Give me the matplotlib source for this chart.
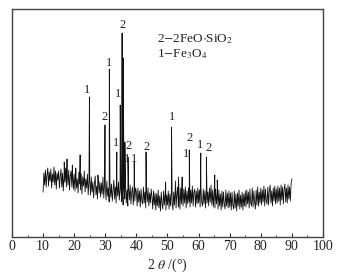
import numpy as np
import matplotlib
matplotlib.use("Agg")
import matplotlib.pyplot as plt
from matplotlib.ticker import MultipleLocator, NullLocator

plt.rcParams['font.family'] = ['Liberation Serif', 'DejaVu Serif']
plt.rcParams['mathtext.fontset'] = 'stix'

# background (0.25 deg steps from 10 to 90), hand-read intensity (arb. units)
bg_values = [
    45, 64, 52, 67, 50, 62, 69, 51, 65, 56, 68, 49, 63, 55, 70, 52, 66, 48, 64, 57,
    66, 49, 60, 68, 50, 64, 46, 62, 55, 69, 50, 65, 52, 67, 47, 61, 66, 50, 63, 48,
    63, 46, 66, 49, 58, 44, 65, 53, 47, 63, 43, 60, 51, 66, 45, 58, 49, 63, 42, 56,
    57, 42, 60, 45, 55, 39, 53, 61, 42, 51, 38, 59, 44, 55, 40, 54, 43, 60, 39, 52,
    52, 37, 56, 41, 49, 35, 54, 40, 53, 36, 47, 57, 38, 50, 34, 52, 41, 55, 37, 48,
    51, 35, 46, 32, 50, 38, 53, 34, 47, 31, 49, 37, 52, 33, 45, 50, 32, 47, 36, 49,
    45, 31, 49, 35, 46, 30, 48, 36, 33, 50, 34, 45, 29, 47, 35, 49, 31, 44, 34, 48,
    40, 28, 46, 32, 44, 27, 43, 31, 47, 29, 41, 26, 45, 33, 28, 46, 32, 43, 27, 42,
    32, 46, 28, 43, 31, 47, 34, 27, 45, 32, 48, 29, 42, 50, 30, 44, 28, 49, 33, 45,
    31, 48, 34, 50, 29, 46, 33, 49, 35, 30, 47, 34, 51, 31, 45, 48, 30, 46, 33, 49,
    34, 47, 30, 49, 35, 31, 48, 33, 46, 29, 50, 34, 45, 31, 49, 35, 52, 32, 47, 30,
    45, 29, 48, 33, 44, 28, 47, 31, 43, 27, 46, 30, 45, 33, 28, 47, 31, 44, 29, 46,
    30, 44, 27, 45, 32, 28, 46, 29, 43, 26, 44, 31, 47, 28, 42, 30, 45, 27, 43, 31,
    46, 30, 47, 33, 45, 29, 48, 34, 31, 49, 30, 46, 35, 28, 47, 32, 50, 31, 45, 34,
    49, 32, 47, 35, 51, 31, 48, 36, 33, 50, 32, 47, 52, 34, 46, 31, 49, 36, 51, 33,
    48, 34, 51, 36, 49, 32, 52, 37, 50, 33, 48, 53, 35, 49, 34, 52, 38, 50, 36, 54,
    58,
]
bg_x = np.linspace(10, 90, len(bg_values))

# diffraction peaks (2theta, intensity)
peak_pos = [16.8, 17.7, 19.4, 20.5, 21.9, 24.9, 27.6, 29.9, 31.3, 33.7, 34.8, 35.4,
            35.8, 36.3, 37.3, 39.3, 43.1, 49.4, 51.3, 52.6, 53.5, 54.7, 57.0, 60.7,
            62.5, 65.2, 66.0]
peak_int = [75, 78, 72, 69, 82, 140, 62, 112, 168, 85, 132, 204,
            179, 95, 80, 75, 85, 55, 110, 56, 60, 60, 87, 84,
            80, 62, 57]

# peak annotations (2theta, height, label)
lab_x = [24.2, 29.7, 31.3, 34.0, 35.5, 33.6, 37.5, 37.0, 39.4, 43.3, 51.4, 57.1, 56.1, 60.6, 63.3]
lab_y = [147, 120, 174, 143, 212, 94, 91, 78, 78, 90, 120, 99, 83, 92, 89]
lab_t = ['1', '2', '1', '1', '2', '1', '2', '1', '1', '2', '1', '2', '1', '1', '2']

legend_lines = [r'2$-$2FeO$\cdot$SiO$_2$', r'1$-$Fe$_3$O$_4$']

# merge background and peaks into one pattern
xs = np.concatenate([bg_x, peak_pos])
ys = np.concatenate([bg_values, peak_int])
order = np.argsort(xs, kind='stable')
xs, ys = xs[order], ys[order]

fig = plt.figure(figsize=(3.62, 2.79), dpi=100)
ax = fig.add_axes([0.0331, 0.1505, 0.8592, 0.8172])
ax.plot(xs, ys, color='#111111', lw=0.6)

for x, y, t in zip(lab_x, lab_y, lab_t):
    ax.text(x, y, t, fontsize=9, ha='center', va='center', color='#222222')

ax.text(46.6, 198, legend_lines[0], fontsize=9.5, ha='left', va='center', color='#222222')
ax.text(46.6, 183, legend_lines[1], fontsize=9.5, ha='left', va='center', color='#222222')

ax.set_xlim(0, 100)
ax.set_ylim(0, 228)
ax.xaxis.set_major_locator(MultipleLocator(10))
ax.xaxis.set_minor_locator(MultipleLocator(5))
ax.yaxis.set_major_locator(NullLocator())
ax.tick_params(axis='x', which='major', direction='in', length=3, width=0.8,
               labelsize=10, pad=2.5, colors='#333333', labelcolor='#222222')
ax.tick_params(axis='x', which='minor', direction='in', length=1.5, width=0.6, colors='#333333')
for s in ax.spines.values():
    s.set_color('#444444')
    s.set_linewidth(1.0)
ax.set_xlabel(r'2 $\theta$ /(°)', fontsize=10, labelpad=2, color='#222222')

fig.savefig('out.png', dpi=100)
